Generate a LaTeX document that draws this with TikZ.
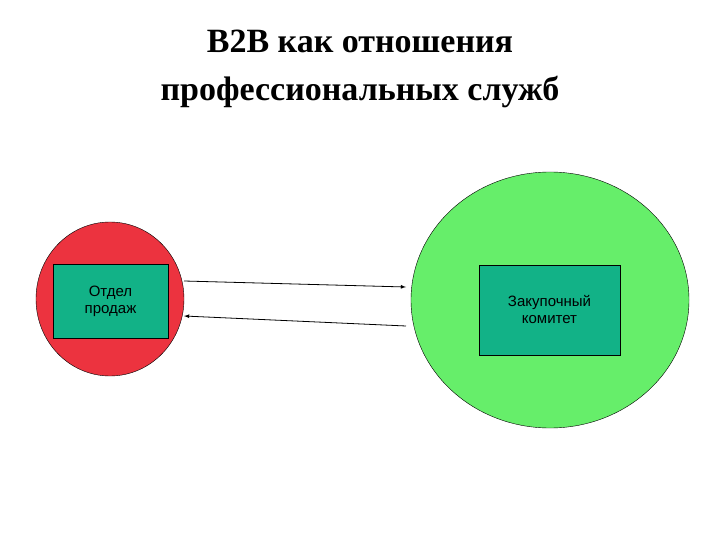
\documentclass[tikz,border=0pt]{standalone}
\usepackage{fontspec}
\setmainfont{Liberation Serif}
\setsansfont{Liberation Sans}
\definecolor{redc}{RGB}{236,51,63}
\definecolor{greenc}{RGB}{102,238,106}
\definecolor{tealc}{RGB}{18,178,135}
\begin{document}
\begin{tikzpicture}[x=1pt,y=-1pt,
  boxs/.style={draw=black,fill=tealc,font=\sffamily\fontsize{15}{17}\selectfont,align=center,inner sep=0pt},
  arr/.style={-latex,thick}]
\useasboundingbox (0,0) rectangle (720,540);
\node[font=\bfseries\fontsize{34}{48}\selectfont,align=center] (title) at (360,69) {B2B как отношения\\профессиональных служб};
\draw[draw=black,fill=redc] (110,299) ellipse [x radius=74, y radius=77];
\draw[draw=black,fill=greenc] (550,300) ellipse [x radius=139, y radius=128];
\node[boxs,minimum width=115,minimum height=74] (a) at (110.5,301) {Отдел\\продаж};
\node[boxs,minimum width=141,minimum height=90] (b) at (549.5,310) {Закупочный\\комитет};
\coordinate (a1) at (184,281);
\coordinate (b1) at (406,287);
\coordinate (b2) at (406,326);
\coordinate (a2) at (184,316);
\draw[arr] (a1) -- (b1);
\draw[arr] (b2) -- (a2);
\end{tikzpicture}
\end{document}
